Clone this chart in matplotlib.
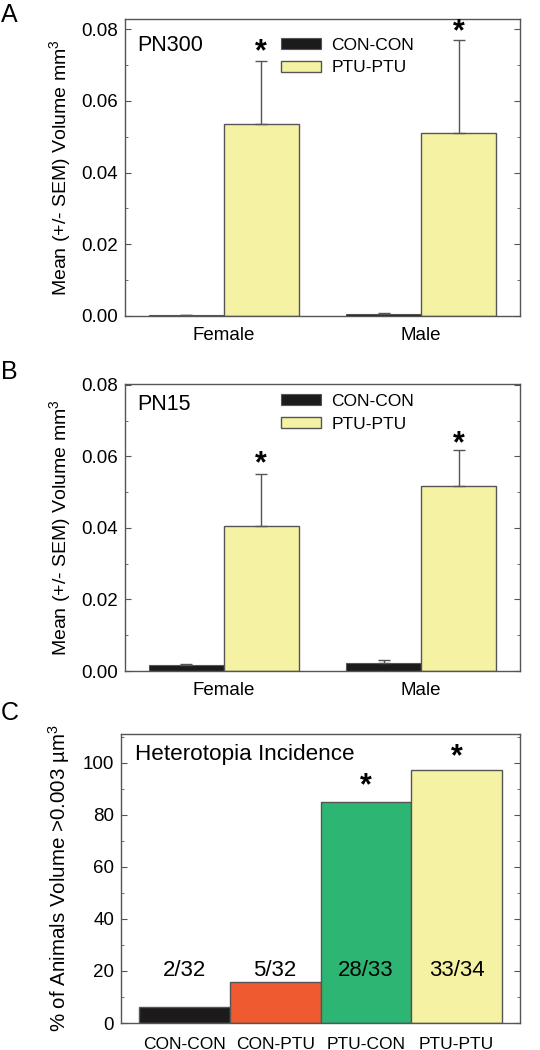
import matplotlib
matplotlib.use("Agg")
import matplotlib.pyplot as plt
import numpy as np

plt.rcParams['font.family'] = ['Liberation Sans', 'DejaVu Sans']
plt.rcParams['mathtext.fontset'] = 'custom'
plt.rcParams['mathtext.rm'] = 'Liberation Sans'
plt.rcParams['mathtext.it'] = 'Liberation Sans'

# ---- Data ----
groups_ab = ["Female", "Male"]
series_ab = ["CON-CON", "PTU-PTU"]
# Panel A (PN300)
a_con = [0.0003, 0.0005]
a_con_err = [0.0001, 0.0002]
a_ptu = [0.0535, 0.0510]
a_ptu_err = [0.0175, 0.0260]
a_star = [0.0735, 0.0791]
# Panel B (PN15)
b_con = [0.0016, 0.0023]
b_con_err = [0.0003, 0.0009]
b_ptu = [0.0406, 0.0517]
b_ptu_err = [0.0145, 0.0100]
b_star = [0.0577, 0.0633]
# Panel C
c_cats = ["CON-CON", "CON-PTU", "PTU-CON", "PTU-PTU"]
c_vals = [6.25, 15.6, 84.8, 97.1]
c_labels = ["2/32", "5/32", "28/33", "33/34"]
c_star = [None, None, 90.9, 101.9]
ab_yticks = [0.00, 0.02, 0.04, 0.06, 0.08]
c_yticks = [0, 20, 40, 60, 80, 100]

BLACK = "#1c1a1b"
YELLOW = "#f5f3a3"
GREEN = "#2db673"
ORANGE = "#f05a30"
EDGE = "#555555"
W, H = 540, 1050

fig = plt.figure(figsize=(W/100, H/100), dpi=100)

def px_axes(l, t, r, b):
    return fig.add_axes([l/W, 1-b/H, (r-l)/W, (b-t)/H])

def style(ax):
    for s in ax.spines.values():
        s.set_color(EDGE)
        s.set_linewidth(1.0)
    ax.tick_params(axis='y', which='both', direction='in', left=True, right=True,
                   color=EDGE, labelsize=13.5, pad=5)
    ax.tick_params(axis='y', which='major', length=4)
    ax.tick_params(axis='y', which='minor', length=2.5)
    ax.tick_params(axis='x', which='both', length=0, labelsize=13.5, pad=8)

def panel_ab(ax, con, con_err, ptu, ptu_err, star, title, ymax, title_y, leg_y):
    x = np.arange(len(groups_ab))
    w = 0.38
    ax.bar(x - w/2, con, w, color=BLACK, edgecolor=EDGE, linewidth=0.8,
           yerr=[[0]*len(con), con_err], error_kw=dict(ecolor=EDGE, elinewidth=1, capsize=4, capthick=1),
           label=series_ab[0], zorder=2)
    ax.bar(x + w/2, ptu, w, color=YELLOW, edgecolor=EDGE, linewidth=1.0,
           yerr=[[0]*len(ptu), ptu_err], error_kw=dict(ecolor=EDGE, elinewidth=1, capsize=4, capthick=1),
           label=series_ab[1], zorder=2)
    for xi, s in zip(x, star):
        ax.text(xi + w/2, s, "*", ha='center', va='center', fontsize=22, fontweight='bold')
    ax.set_xlim(-0.5, 1.5)
    ax.set_ylim(0, ymax)
    ax.set_xticks(x)
    ax.set_xticklabels(groups_ab)
    ax.set_yticks(ab_yticks)
    ax.set_yticklabels([f"{v:.2f}" for v in ab_yticks])
    ax.set_yticks(np.arange(0.01, 0.08, 0.02), minor=True)
    ax.set_ylabel("Mean (+/- SEM) Volume mm$^{3}$", fontsize=14, labelpad=6)
    ax.text(0.03, title_y, title, transform=ax.transAxes, fontsize=15.5, va='center')
    ax.legend(loc='upper left', bbox_to_anchor=(0.355, leg_y), frameon=False, fontsize=12.5,
              handlelength=2.3, handleheight=0.6, handletextpad=0.6, labelspacing=0.45)
    style(ax)

axA = px_axes(125, 19, 520, 316)
panel_ab(axA, a_con, a_con_err, a_ptu, a_ptu_err, a_star, "PN300", 0.0828, 0.912, 0.99)
axB = px_axes(125, 384, 520, 671)
panel_ab(axB, b_con, b_con_err, b_ptu, b_ptu_err, b_star, "PN15", 0.0802, 0.93, 1.02)

axC = px_axes(121, 734, 520, 1023)
xc = np.arange(len(c_cats))
ax = axC
ax.bar(xc, c_vals, 1.0, color=[BLACK, ORANGE, GREEN, YELLOW], edgecolor=EDGE, linewidth=1.0, zorder=2)
for xi, lab in zip(xc, c_labels):
    ax.text(xi, 20, lab, ha='center', va='center', fontsize=16)
for xi, s in zip(xc, c_star):
    if s is not None:
        ax.text(xi, s, "*", ha='center', va='center', fontsize=22, fontweight='bold')
ax.set_xlim(-0.7, 3.7)
ax.set_ylim(0, 111)
ax.set_xticks(xc)
ax.set_xticklabels(c_cats)
ax.set_yticks(c_yticks)
ax.set_yticks(np.arange(10, 111, 20), minor=True)
ax.set_ylabel("% of Animals Volume >0.003 \u00b5m$^{3}$", fontsize=14.8, labelpad=8)
ax.text(0.035, 0.928, "Heterotopia Incidence", transform=ax.transAxes, fontsize=16.2, va='center')
style(ax)
ax.tick_params(axis='x', labelsize=12.5, pad=10)

for lab, y in [("A", 15), ("B", 372), ("C", 713)]:
    fig.text(1/W, 1 - y/H, lab, fontsize=18, va='center', ha='left')

fig.savefig("out.png", dpi=100)
